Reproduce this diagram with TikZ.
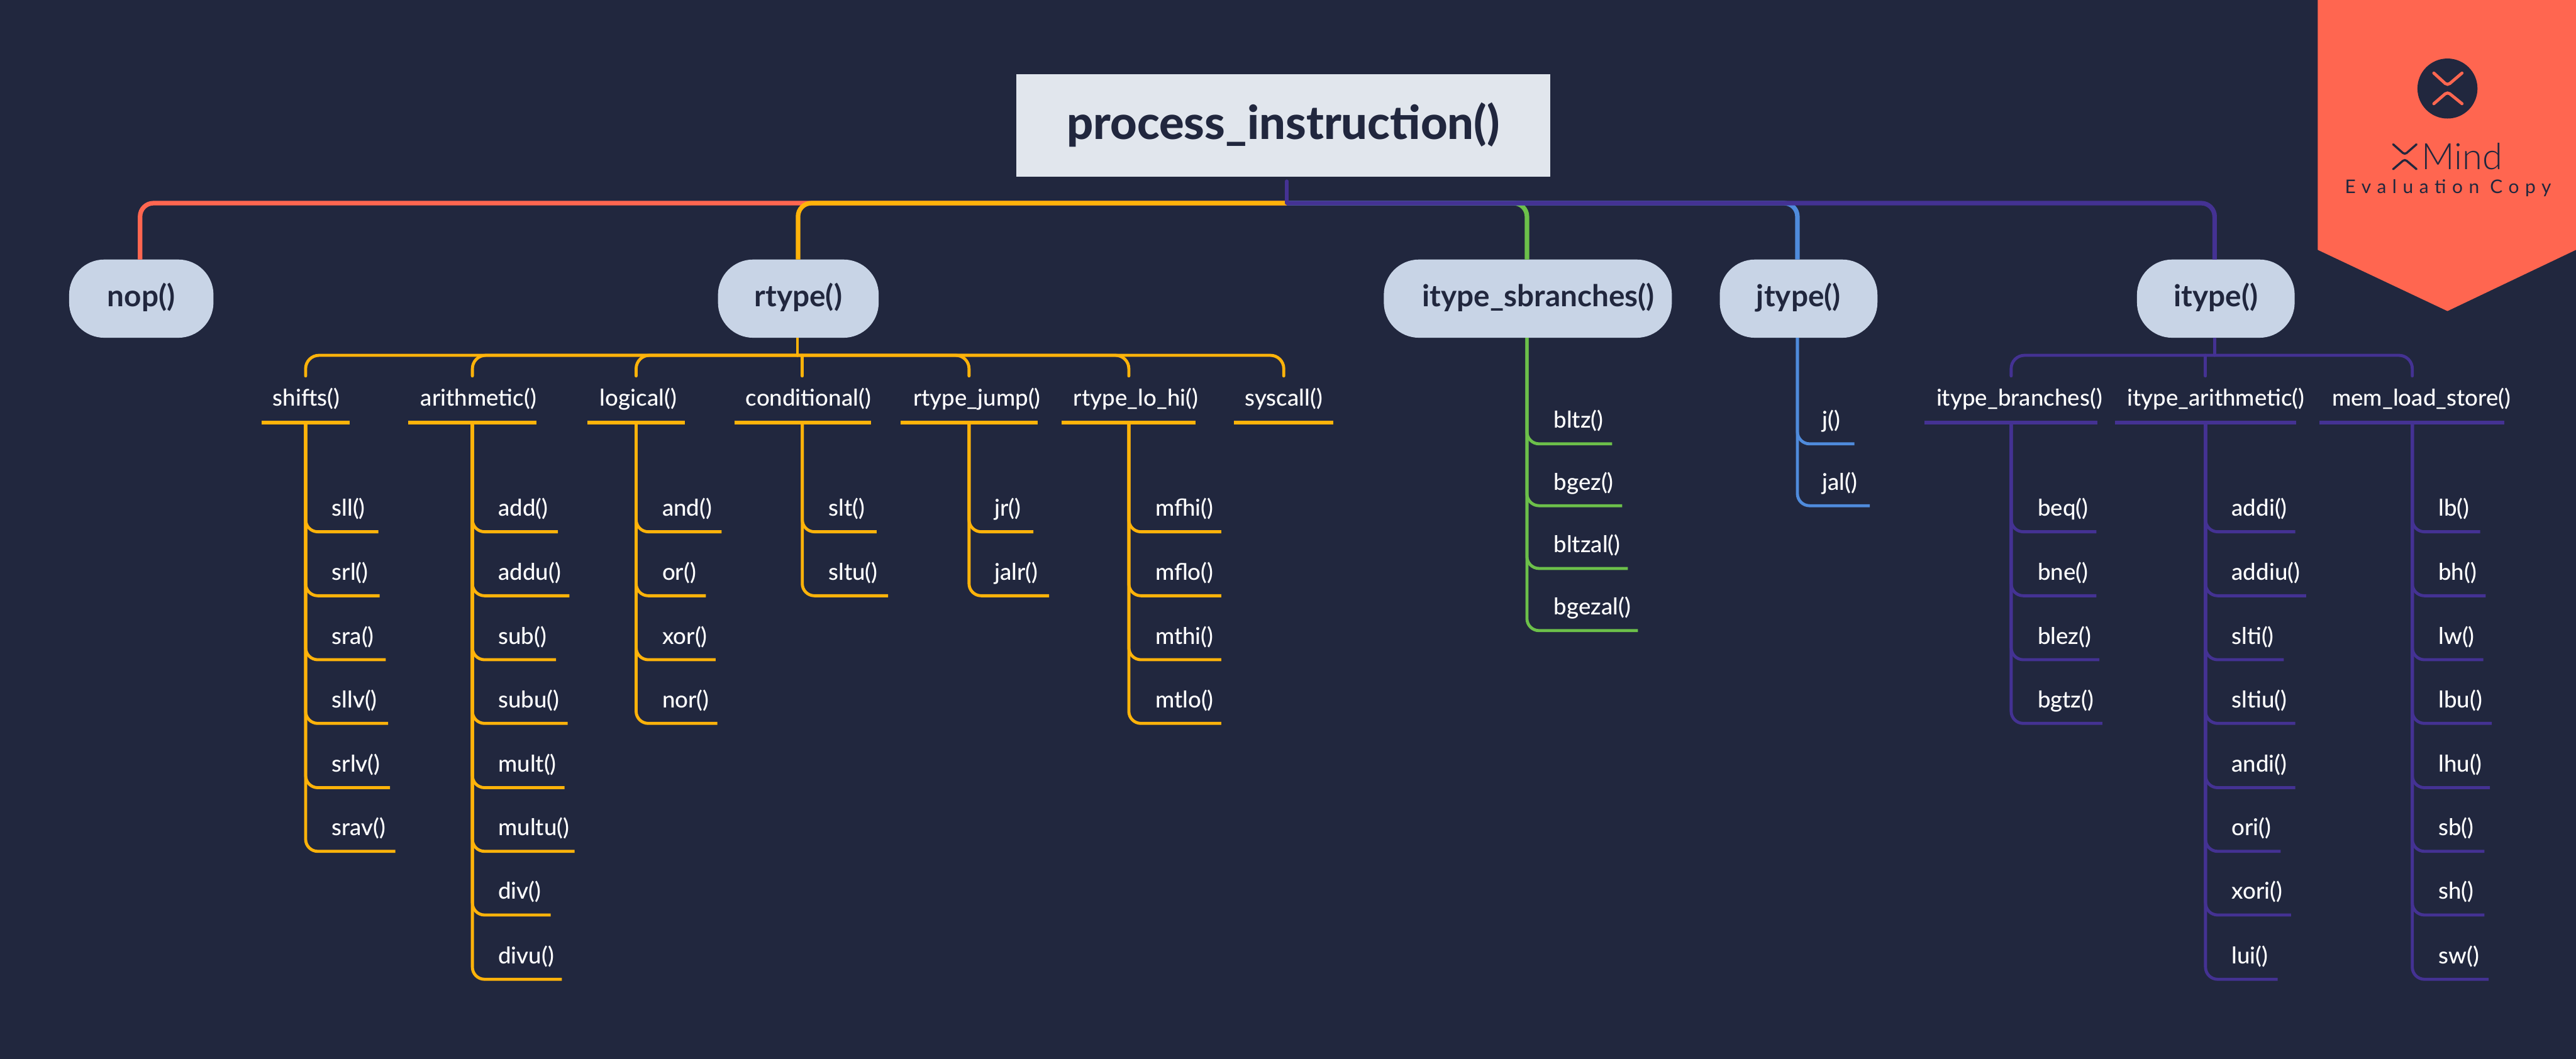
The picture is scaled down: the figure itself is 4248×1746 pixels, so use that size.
\documentclass[tikz,border=0pt]{standalone}
\usepackage{fontspec}
\setmainfont{Lato Medium}[BoldFont={Lato Bold}]
\newfontfamily\ribbonfont[LetterSpace=32]{Lato}
\newfontfamily\lightfont{Lato Light}
\newfontfamily\heavyfont{Lato Heavy}
\definecolor{bgc}{HTML}{21273E}
\definecolor{rootc}{HTML}{E1E6ED}
\definecolor{boxc}{HTML}{C8D4E6}
\definecolor{redc}{HTML}{FF6650}
\definecolor{orangec}{HTML}{FFB30A}
\definecolor{greenc}{HTML}{6CC04A}
\definecolor{bluec}{HTML}{4F8BDC}
\definecolor{purplec}{HTML}{443293}
\tikzset{
  rootbox/.style={fill=rootc,text=bgc,inner sep=0,minimum width=881pt,minimum height=169pt,text height=60pt,text depth=13pt,font=\fontsize{76.7}{80}\selectfont\heavyfont},
  mainbox/.style={fill=boxc,text=bgc,inner sep=0,minimum height=129pt,rounded corners=58pt,text height=40pt,text depth=13pt,font=\fontsize{49.5}{54}\selectfont\bfseries},
  topiclabel/.style={text=white,inner sep=0,anchor=base,font=\fontsize{38}{42}\selectfont},
  leaflabel/.style={text=white,inner sep=0,anchor=base west,font=\fontsize{38}{42}\selectfont},
  busline/.style={line width=7.5pt,rounded corners=22pt},
  mainstem/.style={line width=5pt,color=branch},
  bracket/.style={line width=5pt,color=branch,rounded corners=22pt,line cap=round},
  ulline/.style={line width=5.5pt,color=branch},
  leafline/.style={line width=5pt,color=branch,rounded corners=20pt},
}
\newcommand\topicnode[6]{%
  \node[topiclabel] (#1) at (#3,669) {#2};
  \coordinate (#1-top) at (#4,620);
  \coordinate (#1-stem) at (#4,697);
  \coordinate (#1-l) at (#5,697);
  \coordinate (#1-r) at (#6,697);
  \draw[ulline] (#1-l) -- (#1-r);
}
\newcommand\leafnode[6]{%
  \node[leaflabel] (#1) at (#4,{#6-26}) {#2};
  \coordinate (#1-end) at (#5,#6);
  \draw[leafline] (#3) |- (#1-end);
}
\begin{document}
\begin{tikzpicture}[x=1pt,y=-1pt]
\fill[bgc] (0,0) rectangle (4248,1746);
\useasboundingbox (0,0) rectangle (4248,1746);

% main nodes
\node[rootbox] (root) at (2116,206.5) {process\_instruction()};
\node[mainbox,minimum width=238pt] (nop) at (233,492.5) {nop()};
\node[mainbox,minimum width=265pt] (rtype) at (1316.5,492.5) {rtype()};
\node[mainbox,minimum width=475pt] (sbr) at (2519.5,492.5) {\hspace*{35pt}itype\_sbranches()};
\node[mainbox,minimum width=260pt] (jtype) at (2966,492.5) {jtype()};
\node[mainbox,minimum width=260pt] (itype) at (3654,492.5) {itype()};

\coordinate (rootstem) at (2122,299);
\coordinate (rootbus) at (2122,335);
\coordinate (nopin) at (231,428);
\coordinate (rtypein) at (1316,428);
\coordinate (sbrin) at (2518,428);
\coordinate (jtypein) at (2964,428);
\coordinate (itypein) at (3652,428);

% top bus
\draw[busline,redc] (rootbus) -| (nopin);
\draw[busline,greenc] (rootbus) -| (sbrin);
\draw[busline,bluec] (rootbus) -| (jtypein);
\draw[busline,orangec] (rootbus) -| (rtypein);
\draw[busline,purplec] (rootbus) -| (itypein);
\draw[line width=6pt,purplec,line cap=round] (rootstem) -- (rootbus);

% rtype
\colorlet{branch}{orangec}
\coordinate (rtypeout) at (1315,557);
\coordinate (rtypebus) at (1315,586);
\draw[mainstem] (rtypeout) -- (rtypebus);
\topicnode{shifts}{shifts()}{505}{504}{431}{577}
\topicnode{arith}{arithmetic()}{789}{779}{673}{885}
\topicnode{logic}{logical()}{1052.5}{1049}{969}{1129}
\topicnode{cond}{conditional()}{1333}{1323}{1211}{1436}
\topicnode{rjump}{rtype\_jump()}{1611}{1598}{1485}{1711}
\topicnode{lohi}{rtype\_lo\_hi()}{1873}{1861.5}{1751}{1972}
\topicnode{sysc}{syscall()}{2117}{2117}{2035}{2199}
\draw[bracket] (rtypebus) -| (shifts-top);
\draw[bracket] (rtypebus) -| (arith-top);
\draw[bracket] (rtypebus) -| (logic-top);
\draw[bracket] (cond-top |- rtypebus) -- (cond-top);
\draw[bracket] (rtypebus) -| (rjump-top);
\draw[bracket] (rtypebus) -| (lohi-top);
\draw[bracket] (rtypebus) -| (sysc-top);

\leafnode{sll}{sll()}{shifts-stem}{547}{624}{877}
\leafnode{srl}{srl()}{shifts-stem}{547}{626}{982.5}
\leafnode{sra}{sra()}{shifts-stem}{547}{636}{1088}
\leafnode{sllv}{sllv()}{shifts-stem}{547}{640}{1193}
\leafnode{srlv}{srlv()}{shifts-stem}{547}{643}{1299}
\leafnode{srav}{srav()}{shifts-stem}{547}{652}{1404}

\leafnode{add}{add()}{arith-stem}{821.5}{920}{877}
\leafnode{addu}{addu()}{arith-stem}{821.5}{939}{982.5}
\leafnode{sub}{sub()}{arith-stem}{821.5}{917}{1088}
\leafnode{subu}{subu()}{arith-stem}{821.5}{936}{1193}
\leafnode{mult}{mult()}{arith-stem}{821.5}{931}{1299}
\leafnode{multu}{multu()}{arith-stem}{821.5}{947.5}{1404}
\leafnode{div}{div()}{arith-stem}{821.5}{908}{1509}
\leafnode{divu}{divu()}{arith-stem}{821.5}{926.5}{1615}

\leafnode{and}{and()}{logic-stem}{1092}{1190}{877}
\leafnode{or}{or()}{logic-stem}{1092}{1164}{982.5}
\leafnode{xor}{xor()}{logic-stem}{1092}{1180}{1088}
\leafnode{nor}{nor()}{logic-stem}{1092}{1183}{1193}

\leafnode{slt}{slt()}{cond-stem}{1366}{1445.5}{877}
\leafnode{sltu}{sltu()}{cond-stem}{1366}{1464.5}{982.5}

\leafnode{jr}{jr()}{rjump-stem}{1640}{1704}{877}
\leafnode{jalr}{jalr()}{rjump-stem}{1640}{1730}{982.5}

\leafnode{mfhi}{mfhi()}{lohi-stem}{1905}{2014}{877}
\leafnode{mflo}{mflo()}{lohi-stem}{1905}{2014}{982.5}
\leafnode{mthi}{mthi()}{lohi-stem}{1905}{2014}{1088}
\leafnode{mtlo}{mtlo()}{lohi-stem}{1905}{2014}{1193}

% itype_sbranches
\colorlet{branch}{greenc}
\coordinate (sbrout) at (2518,557);
\leafnode{bltz}{bltz()}{sbrout}{2562}{2658.5}{732}
\leafnode{bgez}{bgez()}{sbrout}{2562}{2675}{834}
\leafnode{bltzal}{bltzal()}{sbrout}{2562}{2684.5}{937.5}
\leafnode{bgezal}{bgezal()}{sbrout}{2562}{2701}{1040}

% jtype
\colorlet{branch}{bluec}
\coordinate (jtypeout) at (2964,557);
\leafnode{jj}{j()}{jtypeout}{3005}{3058}{732}
\leafnode{jal}{jal()}{jtypeout}{3005}{3083.5}{834}

% itype
\colorlet{branch}{purplec}
\coordinate (itypeout) at (3652,557);
\coordinate (itypebus) at (3652,586);
\draw[mainstem] (itypeout) -- (itypebus);
\topicnode{ibr}{itype\_branches()}{3330}{3316.5}{3174}{3459}
\topicnode{iar}{itype\_arithmetic()}{3654}{3637}{3488}{3786}
\topicnode{mem}{mem\_load\_store()}{3993}{3978}{3825}{4130}
\draw[bracket] (itypebus) -| (ibr-top);
\draw[bracket] (iar-top |- itypebus) -- (iar-top);
\draw[bracket] (itypebus) -| (mem-top);

\leafnode{beq}{beq()}{ibr-stem}{3360}{3457}{877}
\leafnode{bne}{bne()}{ibr-stem}{3360}{3457}{982.5}
\leafnode{blez}{blez()}{ibr-stem}{3360}{3462}{1088}
\leafnode{bgtz}{bgtz()}{ibr-stem}{3360}{3467}{1193}

\leafnode{addi}{addi()}{iar-stem}{3680}{3785}{877}
\leafnode{addiu}{addiu()}{iar-stem}{3680}{3803}{982.5}
\leafnode{slti}{slti()}{iar-stem}{3680}{3766}{1088}
\leafnode{sltiu}{sltiu()}{iar-stem}{3680}{3785}{1193}
\leafnode{andi}{andi()}{iar-stem}{3680}{3785}{1299}
\leafnode{ori}{ori()}{iar-stem}{3680}{3761}{1404}
\leafnode{xori}{xori()}{iar-stem}{3680}{3778}{1509}
\leafnode{lui}{lui()}{iar-stem}{3680}{3756}{1615}

\leafnode{lb}{lb()}{mem-stem}{4021}{4090}{877}
\leafnode{bh}{bh()}{mem-stem}{4021}{4099}{982.5}
\leafnode{lw}{lw()}{mem-stem}{4021}{4095}{1088}
\leafnode{lbu}{lbu()}{mem-stem}{4021}{4109}{1193}
\leafnode{lhu}{lhu()}{mem-stem}{4021}{4106}{1299}
\leafnode{sb}{sb()}{mem-stem}{4021}{4097}{1404}
\leafnode{sh}{sh()}{mem-stem}{4021}{4097}{1509}
\leafnode{sw}{sw()}{mem-stem}{4021}{4104}{1615}

% evaluation ribbon
\fill[redc] (3822,0) -- (4248,0) -- (4248,412) -- (4036,513) -- (3822,412) -- cycle;
\fill[bgc] (4036,146) circle (49.5);
\draw[redc,line width=5pt,line cap=round,rounded corners=5pt] (4013.5,120.5) -- (4036,141) -- (4060,120.5);
\draw[redc,line width=5pt,line cap=round,rounded corners=5pt] (4013.5,171) -- (4036,151.5) -- (4060,171);
\draw[bgc,line width=3.5pt,line cap=round,rounded corners=4pt] (3946.4,238) -- (3965.6,255) -- (3985,238);
\draw[bgc,line width=3.5pt,line cap=round,rounded corners=4pt] (3946.4,279) -- (3965.6,262.5) -- (3985,279);
\node[text=bgc,inner sep=0,anchor=base west,font=\fontsize{60}{64}\selectfont\lightfont] (mindword) at (3993,280) {Mind};
\node[text=bgc,inner sep=0,anchor=base,font=\fontsize{31}{34}\selectfont\ribbonfont] (evalword) at (4037,318.6) {Evaluation Copy};
\end{tikzpicture}
\end{document}
